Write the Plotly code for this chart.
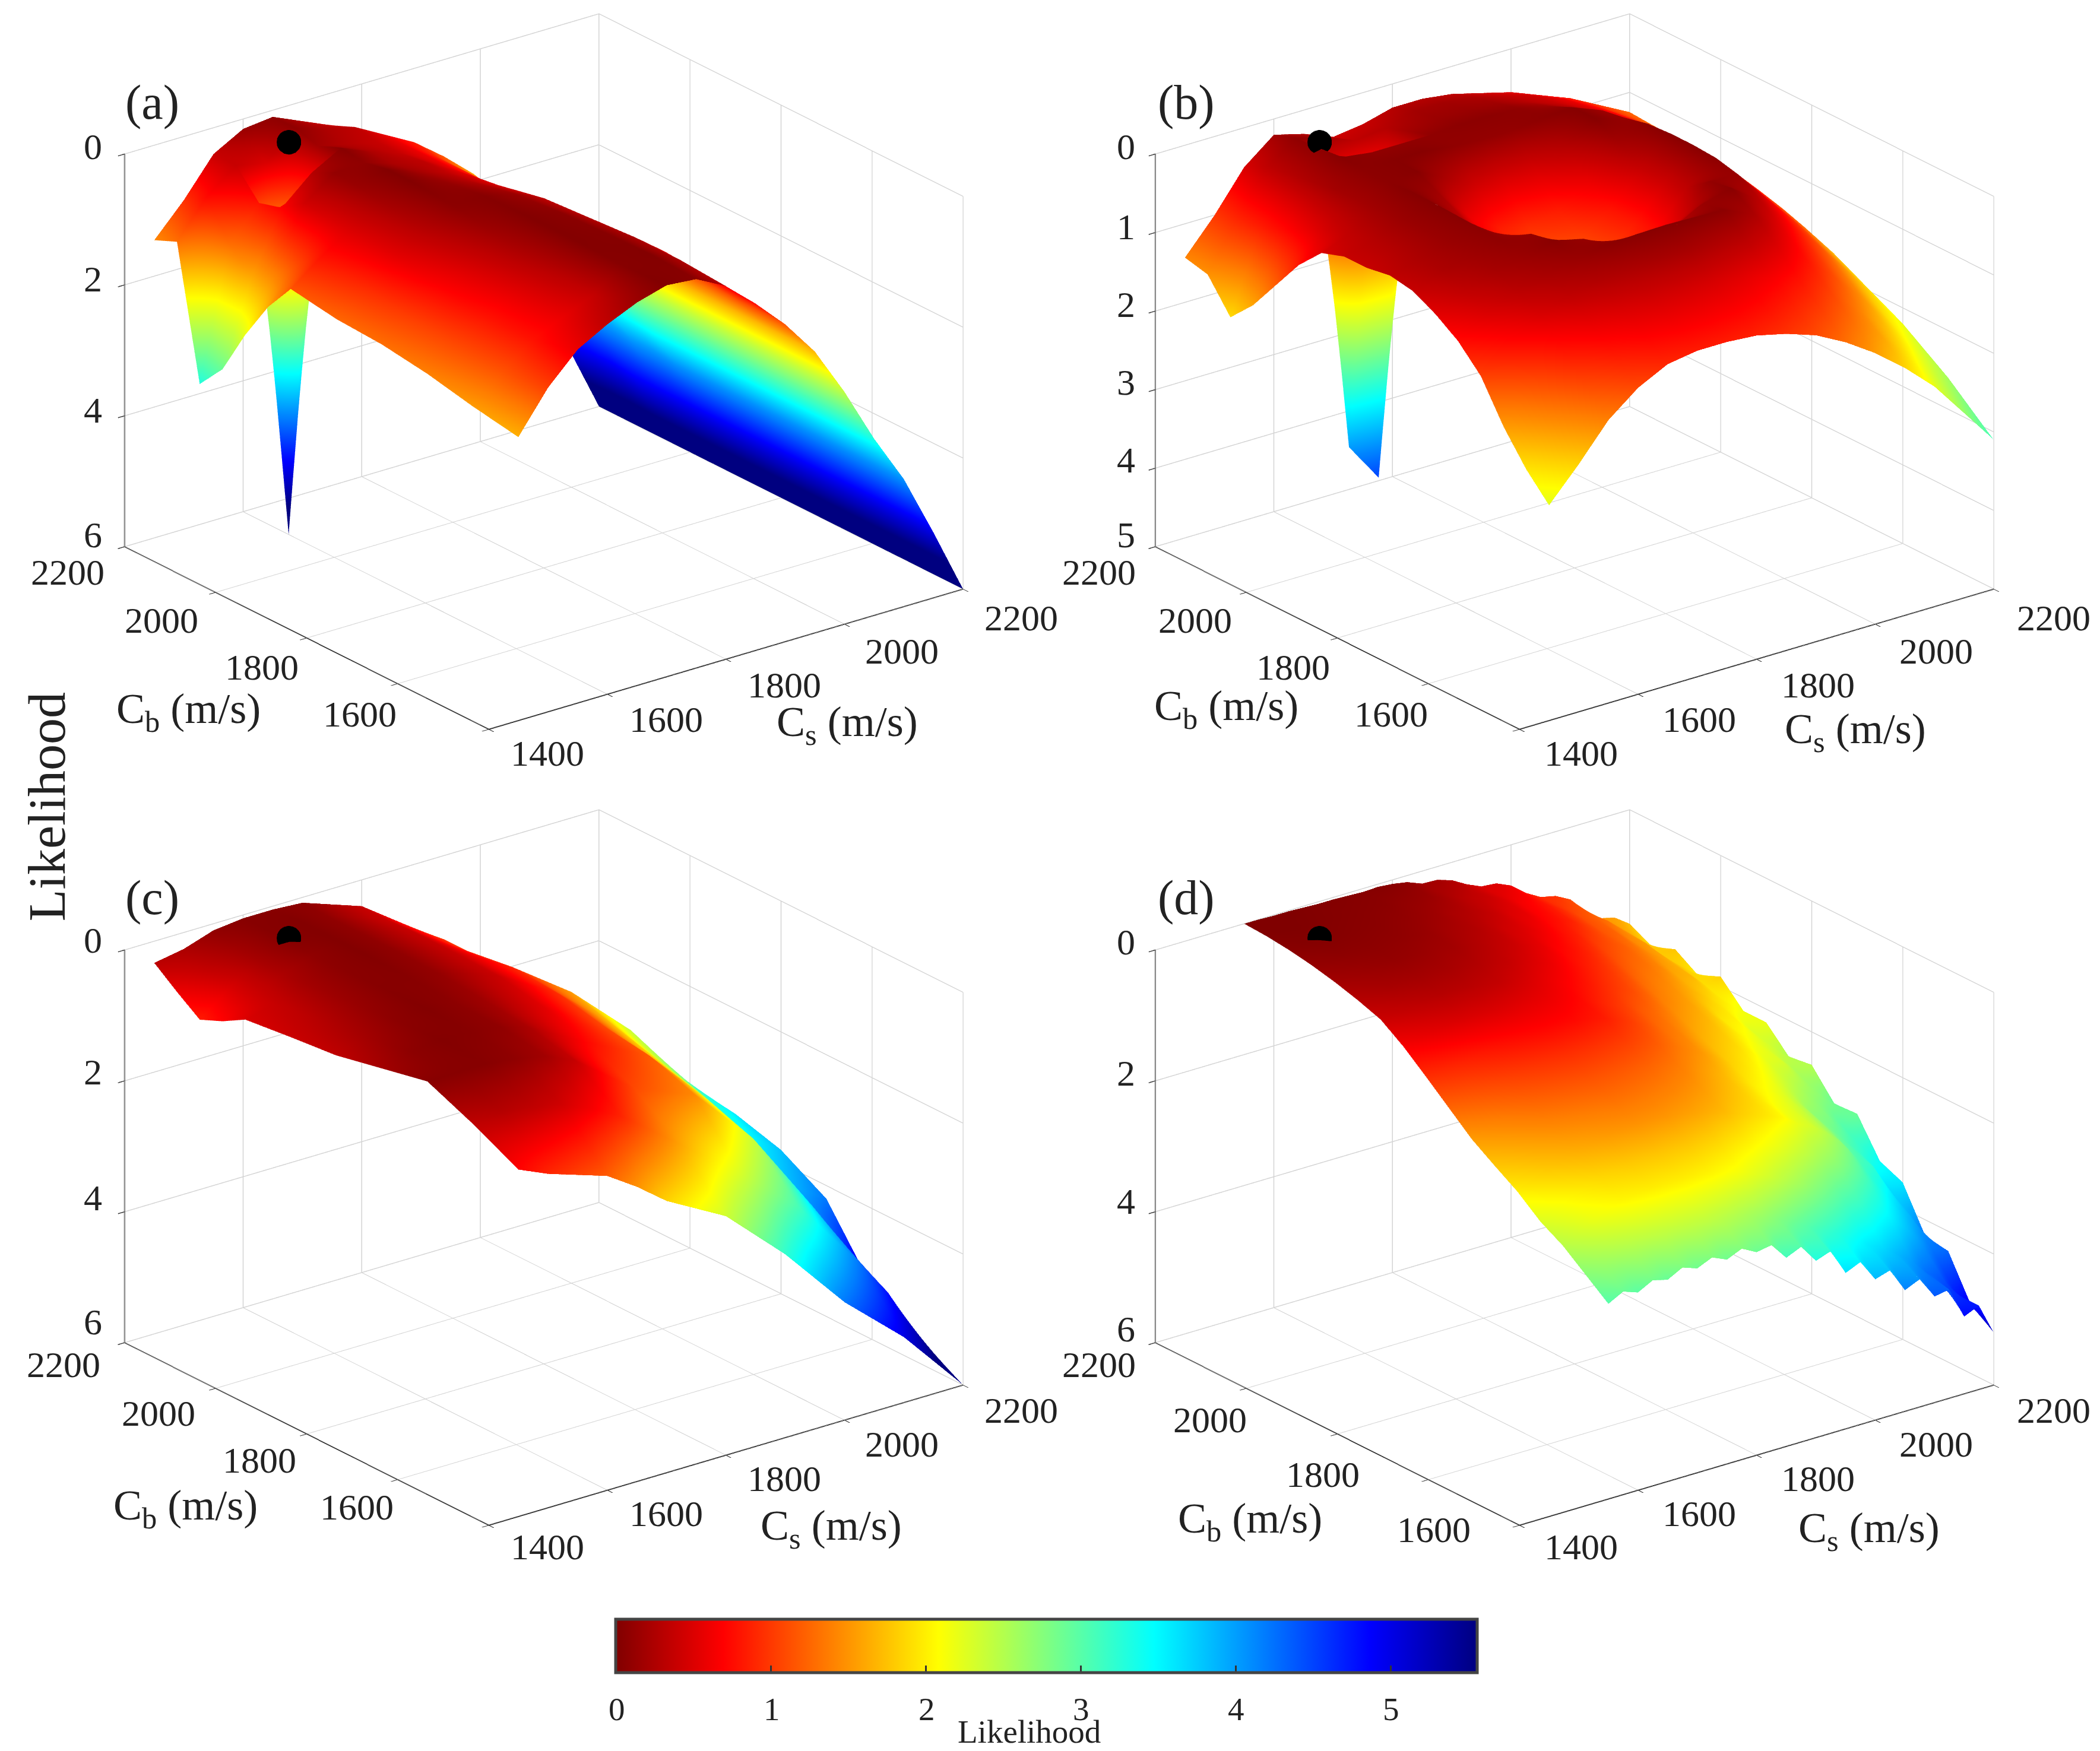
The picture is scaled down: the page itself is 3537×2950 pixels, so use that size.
import plotly.graph_objects as go

# axis ticks
speed_ticks = [1400, 1600, 1800, 2000, 2200]
cb_label_ticks = [2200, 2000, 1800, 1600]
depth_ticks_6 = [0, 2, 4, 6]
depth_ticks_5 = [0, 1, 2, 3, 4, 5]
bar_ticks = [0, 1, 2, 3, 4, 5]
bar_max = 5.56

# true parameter (black dot)
true_cs = [1600]
true_cb = [2100]
true_z = [0]

# panel (a)
a_cs = [1450, 1500, 1550, 1600, 1650, 1700, 1750, 1800, 1850, 1900, 1950, 2000, 2050, 2100, 2150, 2200]
a_cb = [2200, 2150, 2100, 2050, 2000, 1950, 1900, 1800, 1700, 1600, 1500, 1400]
a_z = [
    [1.45, .97, .40, .15, .10, .30, .50, .74, .95, 1.24, 1.60, 2.00, 3.00, 4.00, 5.00, 6.0],
    [1.30, .75, .40, .50, .10, .25, .35, .60, .85, 1.20, 1.60, 2.10, 3.00, 3.90, 4.90, 6.0],
    [3.30, 1.30, .80, 6.00, .20, .30, .40, .60, .90, 1.30, 1.70, 2.20, 3.00, 3.90, 4.90, 6.0],
    [2.90, 1.60, .70, .30, .05, .25, .40, .60, .90, 1.30, 1.70, 2.30, 3.10, 3.90, 5.00, 6.0],
    [2.20, 1.40, .45, .12, .10, .25, .35, .60, .90, 1.30, 1.75, 2.40, 3.20, 4.00, 5.00, 6.0],
    [1.60, 1.10, .50, .15, .03, .20, .35, .55, .85, 1.25, 1.75, 2.45, 3.25, 4.00, 5.00, 6.0],
    [1.15, .80, .50, .20, .03, .15, .30, .50, .80, 1.25, 1.75, 2.50, 3.30, 4.05, 5.00, 6.0],
    [1.26, .95, .55, .30, .08, .05, .15, .35, .70, 1.15, 1.70, 2.45, 3.30, 4.05, 5.00, 6.0],
    [1.30, 1.05, .70, .45, .20, .03, .08, .30, .65, 1.10, 1.70, 2.45, 3.30, 4.05, 5.00, 6.0],
    [1.40, 1.10, .80, .55, .30, .03, .05, .25, .60, 1.10, 1.70, 2.45, 3.30, 4.05, 5.00, 6.0],
    [1.55, 1.15, .80, .60, .40, .05, .03, .25, .65, 1.15, 1.70, 2.45, 3.30, 4.05, 5.00, 6.0],
    [1.67, 1.05, .60, .35, .15, .02, .06, .30, .70, 1.15, 1.70, 2.45, 3.30, 4.05, 5.00, 6.0],
]

# panel (b)
b_cs = [1450, 1500, 1550, 1600, 1650, 1700, 1750, 1800, 1850, 1900, 1950, 2000, 2050, 2100, 2150, 2200]
b_cb = [2200, 2150, 2100, 2050, 2000, 1950, 1900, 1850, 1800, 1750, 1700, 1650, 1600, 1550, 1500, 1450, 1400]
b_z = [
    [1.43, 1.00, .50, .20, .30, .45, .40, .30, .30, .35, .45, .55, .70, .85, 1.05, 1.25],
    [1.50, .90, .35, .10, .20, .35, .30, .20, .20, .25, .35, .45, .60, .80, 1.02, 1.27],
    [1.90, .85, .30, .08, 4.00, 4.50, .20, .15, .15, .18, .28, .40, .55, .75, 1.00, 1.28],
    [1.60, .75, .25, .05, .10, .10, .10, .08, .08, .10, .18, .32, .50, .72, .98, 1.30],
    [1.20, .60, .20, .08, .05, .05, .10, .12, .12, .08, .05, .20, .45, .70, 1.00, 1.35],
    [.80, .45, .20, .08, .05, .25, .45, .55, .50, .30, .05, .15, .42, .70, 1.02, 1.40],
    [.50, .35, .18, .05, .20, .60, .85, .95, .85, .60, .20, .08, .38, .72, 1.05, 1.45],
    [.40, .30, .15, .05, .35, .80, 1.05, 1.15, 1.05, .80, .40, .06, .38, .75, 1.12, 1.55],
    [.40, .28, .15, .06, .40, .85, 1.10, 1.20, 1.10, .85, .45, .06, .42, .80, 1.20, 1.65],
    [.35, .25, .15, .08, .30, .75, 1.00, 1.10, 1.00, .75, .35, .08, .48, .90, 1.30, 1.75],
    [.40, .25, .18, .10, .12, .50, .75, .85, .75, .50, .12, .15, .58, 1.00, 1.45, 1.90],
    [.55, .35, .22, .15, .06, .15, .35, .45, .35, .15, .06, .35, .75, 1.15, 1.60, 2.05],
    [.75, .50, .32, .22, .15, .08, .06, .05, .06, .08, .25, .58, .95, 1.35, 1.80, 2.20],
    [1.05, .75, .50, .35, .28, .25, .22, .22, .28, .35, .52, .80, 1.15, 1.55, 2.00, 2.40],
    [1.55, 1.15, .80, .60, .50, .45, .45, .48, .55, .65, .80, 1.05, 1.40, 1.78, 2.20, 2.60],
    [1.95, 1.50, 1.10, .85, .70, .65, .65, .68, .75, .88, 1.05, 1.30, 1.60, 2.00, 2.42, 2.85],
    [2.26, 1.85, 1.40, 1.10, .91, .85, .85, .88, .97, 1.10, 1.30, 1.55, 1.85, 2.20, 2.65, 3.10],
]

# panel (c)
c_cs = [1450, 1500, 1550, 1600, 1650, 1700, 1800, 1900, 2000, 2100, 2150, 2200]
c_cb = [2200, 2150, 2100, 2050, 2000, 1900, 1800, 1700, 1600, 1500, 1400]
c_z = [
    [.33, .25, .10, .05, .05, .08, .40, 1.05, 1.90, 2.70, 3.10, 3.50],
    [.60, .35, .18, .05, .03, .10, .42, 1.00, 1.80, 2.60, 3.10, 3.50],
    [.85, .50, .22, .05, .03, .10, .40, 1.00, 1.75, 2.60, 3.05, 3.50],
    [.70, .45, .25, .10, .03, .10, .40, .95, 1.65, 2.50, 3.00, 3.50],
    [.50, .40, .20, .08, .03, .10, .40, .90, 1.55, 2.40, 3.00, 3.50],
    [.42, .30, .15, .05, .05, .12, .42, .95, 1.75, 2.70, 3.20, 3.60],
    [.35, .20, .08, .03, .08, .18, .55, 1.10, 1.95, 2.95, 3.50, 3.80],
    [.20, .08, .03, .05, .10, .25, .75, 1.20, 2.15, 3.30, 3.90, 4.20],
    [.05, .05, .05, .10, .20, .40, 1.10, 1.45, 2.40, 3.70, 4.40, 5.20],
    [.35, .30, .35, .45, .65, .90, 1.60, 2.30, 3.10, 4.20, 4.80, 5.60],
    [.70, .90, 1.05, 1.20, 1.50, 1.85, 2.35, 3.20, 4.20, 5.00, 5.50, 6.00],
]

# panel (d)
d_cs = [1550, 1575, 1600, 1625, 1650, 1675, 1700, 1725, 1750, 1775, 1800, 1825, 1850, 1875, 1900,
        1925, 1950, 1975, 2000, 2025, 2050, 2075, 2100, 2125, 2150, 2175, 2200]
d_cb = [2200, 2150, 2100, 2050, 2000, 1950, 1900, 1850, 1800, 1750, 1700, 1650, 1600, 1550, 1500, 1450, 1400]
d_z = [
    [0, 0, .01, .01, .02, .03, .03, .04, .05, .04, .06, .10, .19, .20, .27, .40, .50, .52, .62, .80, .93, .98, 1.10, 1.35, 1.52, 1.58, 1.74],
    [.02, .01, .01, .02, .03, .04, .05, .06, .07, .10, .12, .15, .22, .30, .36, .42, .52, .64, .72, .82, .95, 1.10, 1.20, 1.32, 1.52, 1.72, 1.92],
    [.06, .04, .03, .04, .05, .06, .07, .09, .11, .14, .18, .24, .28, .34, .42, .52, .58, .70, .78, .88, 1.02, 1.16, 1.25, 1.44, 1.55, 1.80, 1.78],
    [.12, .10, .08, .08, .08, .09, .10, .12, .15, .20, .24, .28, .35, .44, .50, .58, .68, .78, .88, 1.02, 1.12, 1.22, 1.35, 1.50, 1.64, 1.82, 2.00],
    [.20, .17, .15, .13, .12, .13, .15, .18, .20, .25, .30, .36, .42, .50, .58, .70, .78, .88, 1.00, 1.14, 1.25, 1.33, 1.45, 1.62, 1.70, 1.92, 1.85],
    [.30, .26, .22, .21, .20, .21, .22, .25, .28, .33, .38, .45, .52, .60, .70, .80, .90, 1.00, 1.12, 1.27, 1.38, 1.47, 1.60, 1.74, 1.90, 2.03, 2.20],
    [.42, .38, .35, .32, .30, .31, .32, .35, .38, .44, .50, .57, .65, .73, .82, .92, 1.02, 1.12, 1.25, 1.40, 1.50, 1.60, 1.75, 1.95, 2.03, 2.26, 2.20],
    [.66, .60, .55, .52, .50, .50, .50, .52, .55, .58, .62, .68, .75, .85, .95, 1.05, 1.18, 1.28, 1.40, 1.55, 1.65, 1.75, 1.90, 2.06, 2.22, 2.36, 2.55],
    [.95, .92, .90, .86, .82, .78, .75, .73, .72, .73, .75, .80, .85, .95, 1.05, 1.17, 1.30, 1.40, 1.55, 1.70, 1.80, 1.90, 2.05, 2.24, 2.31, 2.55, 2.50],
    [1.25, 1.20, 1.15, 1.10, 1.05, 1.01, .98, .96, .95, .96, .98, 1.01, 1.05, 1.12, 1.20, 1.31, 1.42, 1.53, 1.68, 1.84, 1.95, 2.08, 2.25, 2.43, 2.60, 2.72, 2.92],
    [1.55, 1.47, 1.40, 1.32, 1.25, 1.21, 1.18, 1.16, 1.15, 1.16, 1.18, 1.21, 1.25, 1.31, 1.38, 1.49, 1.60, 1.71, 1.85, 2.00, 2.12, 2.26, 2.45, 2.70, 2.80, 3.02, 2.90],
    [1.78, 1.69, 1.60, 1.52, 1.45, 1.41, 1.38, 1.35, 1.32, 1.33, 1.35, 1.38, 1.42, 1.48, 1.55, 1.65, 1.75, 1.85, 1.98, 2.13, 2.25, 2.40, 2.60, 2.84, 3.07, 3.24, 3.45],
    [2.00, 1.90, 1.80, 1.72, 1.65, 1.60, 1.55, 1.52, 1.50, 1.51, 1.52, 1.56, 1.60, 1.66, 1.72, 1.82, 1.90, 1.98, 2.08, 2.24, 2.35, 2.53, 2.75, 3.06, 3.22, 3.62, 3.60],
    [2.28, 2.16, 2.05, 1.96, 1.88, 1.84, 1.80, 1.79, 1.78, 1.79, 1.80, 1.84, 1.88, 1.95, 2.02, 2.11, 2.20, 2.32, 2.45, 2.60, 2.72, 2.89, 3.10, 3.36, 3.63, 3.88, 4.25],
    [2.48, 2.34, 2.20, 2.12, 2.05, 2.02, 2.00, 2.00, 2.00, 2.02, 2.05, 2.10, 2.15, 2.25, 2.35, 2.48, 2.60, 2.75, 2.90, 3.06, 3.15, 3.33, 3.50, 3.74, 3.98, 4.24, 4.30],
    [2.75, 2.63, 2.55, 2.49, 2.45, 2.42, 2.40, 2.40, 2.40, 2.45, 2.50, 2.58, 2.65, 2.78, 2.90, 3.02, 3.15, 3.27, 3.40, 3.56, 3.65, 3.84, 4.00, 4.26, 4.38, 4.72, 4.95],
    [3.02, 2.90, 2.98, 2.86, 2.92, 2.80, 2.88, 2.78, 2.88, 2.78, 2.90, 2.86, 3.12, 3.02, 3.30, 3.22, 3.62, 3.52, 3.85, 3.78, 4.15, 4.05, 4.38, 4.34, 4.82, 4.72, 5.20],
]

# matlab jet flipped, 0 is dark red
jet_r = [
    [0.0, "rgb(128,0,0)"],
    [0.125, "rgb(255,0,0)"],
    [0.375, "rgb(255,255,0)"],
    [0.5, "rgb(128,255,128)"],
    [0.625, "rgb(0,255,255)"],
    [0.875, "rgb(0,0,255)"],
    [1.0, "rgb(0,0,128)"],
]

serif = "Liberation Serif"
W, H = 3537, 2950
EYE = dict(x=-0.562 * 1.565, y=-0.732 * 1.565, z=0.385 * 1.565)
no_lines = dict(highlight=False, show=False)


def surface(cs, cb, z):
    # rows are written from Cb 2200 down, the trace wants them ascending
    # the axis grows downward in the figure, so height is -z
    rows = z[::-1]
    return go.Surface(
        x=cs, y=cb[::-1], z=[[-v for v in row] for row in rows], surfacecolor=rows,
        coloraxis="coloraxis",
        lighting=dict(ambient=1, diffuse=0, specular=0, roughness=1, fresnel=0),
        contours=dict(x=no_lines, y=no_lines, z=no_lines),
        hoverinfo="skip",
    )


def dot():
    return go.Scatter3d(
        x=true_cs, y=true_cb, z=[-v for v in true_z],
        mode="markers",
        marker=dict(size=24, color="black", line=dict(width=0)),
        showlegend=False, hoverinfo="skip",
    )


def speed_axis():
    # gl tick text comes out slanted, the labels are annotations instead
    return dict(
        range=[1400, 2200], tickvals=speed_ticks, title=dict(text=""),
        showbackground=False, showgrid=True, gridcolor="#d4d4d4", gridwidth=3,
        showline=True, linecolor="#3a3a3a", linewidth=4, zeroline=False,
        ticks="outside", ticklen=14, tickcolor="#3a3a3a", tickwidth=3,
        showticklabels=False, showspikes=False,
    )


def scene(x0, x1, y0, y1, zmax, zticks):
    # x0..y1 in pixels, y from the top
    zaxis = speed_axis()
    zaxis.update(range=[-zmax, 0], tickvals=[-t for t in zticks])
    return dict(
        domain=dict(x=[x0 / W, x1 / W], y=[1 - y1 / H, 1 - y0 / H]),
        xaxis=speed_axis(), yaxis=speed_axis(), zaxis=zaxis,
        # in orthographic mode the aspect ratio is what sets the size on screen
        aspectmode="manual", aspectratio=dict(x=1.63, y=1.63, z=1.16), hovermode=False,
        camera=dict(eye=EYE, up=dict(x=0, y=0, z=1), projection=dict(type="orthographic")),
    )


def text(x, y, s, size, angle=0):
    # x, y read on the 1568 wide picture
    return dict(
        x=(x - 3) / 1568, y=1 - (y - 2) / 1308, xref="paper", yref="paper", text=s, showarrow=False,
        xanchor="center", yanchor="middle", textangle=angle,
        font=dict(family=serif, size=size, color="#222222"),
    )


fig = go.Figure()
panels = [(a_cs, a_cb, a_z, "scene"), (b_cs, b_cb, b_z, "scene2"), (c_cs, c_cb, c_z, "scene3"), (d_cs, d_cb, d_z, "scene4")]
for cs, cb, z, name in panels:
    fig.add_trace(surface(cs, cb, z).update(scene=name))
    fig.add_trace(dot().update(scene=name))

notes = [
    text(113, 75, "(a)", 82), text(885, 75, "(b)", 82), text(113, 669, "(c)", 82), text(885, 669, "(d)", 82),
    text(35, 601, "Likelihood", 88, -90),
    text(140, 530, "C<sub>b</sub> (m/s)", 72), text(632, 540, "C<sub>s</sub> (m/s)", 72),
    text(915, 528, "C<sub>b</sub> (m/s)", 72), text(1385, 545, "C<sub>s</sub> (m/s)", 72),
    text(138, 1125, "C<sub>b</sub> (m/s)", 72), text(620, 1140, "C<sub>s</sub> (m/s)", 72),
    text(933, 1135, "C<sub>b</sub> (m/s)", 72), text(1395, 1142, "C<sub>s</sub> (m/s)", 72),
    text(768, 1292, "Likelihood", 55),
]
for t in bar_ticks:
    notes.append(text(460 + t / bar_max * 643, 1275, str(t), 55))

# where each panel's tick labels sit on the 1568 wide picture
label_spots = [
    (cb_label_ticks, [(50, 426), (120, 462), (195, 497), (268, 532)]),
    (speed_ticks, [(408, 561), (497, 536), (585, 510), (673, 485), (762, 460)]),
    (depth_ticks_6, [(69, 108), (69, 207), (69, 305), (69, 398)]),
    (cb_label_ticks, [(820, 426), (892, 462), (965, 497), (1038, 532)]),
    (speed_ticks, [(1180, 561), (1268, 536), (1357, 510), (1445, 485), (1533, 460)]),
    (depth_ticks_5, [(840, 108), (840, 168), (840, 226), (840, 284), (840, 342), (840, 398)]),
    (cb_label_ticks, [(47, 1018), (118, 1054), (193, 1089), (266, 1124)]),
    (speed_ticks, [(408, 1154), (497, 1129), (585, 1103), (673, 1077), (762, 1052)]),
    (depth_ticks_6, [(69, 701), (69, 799), (69, 893), (69, 986)]),
    (cb_label_ticks, [(820, 1018), (903, 1059), (987, 1100), (1070, 1141)]),
    (speed_ticks, [(1180, 1154), (1268, 1129), (1357, 1103), (1445, 1077), (1533, 1052)]),
    (depth_ticks_6, [(840, 702), (840, 800), (840, 896), (840, 991)]),
]
for ticks, spots in label_spots:
    for t, (x, y) in zip(ticks, spots):
        notes.append(text(x, y, str(t), 62))

fig.update_layout(
    width=W, height=H, margin=dict(l=0, r=0, t=0, b=0), paper_bgcolor="white",
    scene=scene(58, 1758, 0, 1236, 6, depth_ticks_6),
    scene2=scene(1794, 3494, 0, 1236, 5, depth_ticks_5),
    scene3=scene(58, 1758, 1341, 2577, 6, depth_ticks_6),
    scene4=scene(1794, 3494, 1341, 2577, 6, depth_ticks_6),
    coloraxis=dict(
        cmin=0, cmax=bar_max, colorscale=jet_r,
        colorbar=dict(
            orientation="h", x=0.4961, xanchor="center", y=1 - 2829 / H, yanchor="bottom",
            len=1451 / W, lenmode="fraction", thickness=90,
            outlinecolor="#444444", outlinewidth=5, tickvals=bar_ticks, ticks="inside",
            ticklen=14, tickcolor="#333333", tickwidth=3, showticklabels=False,
            xpad=0, ypad=0,
        ),
    ),
    annotations=notes,
)

# software gl in the browser is slow, one pixel per pixel is enough
fig.write_html("out.html", config=dict(plotGlPixelRatio=1))
